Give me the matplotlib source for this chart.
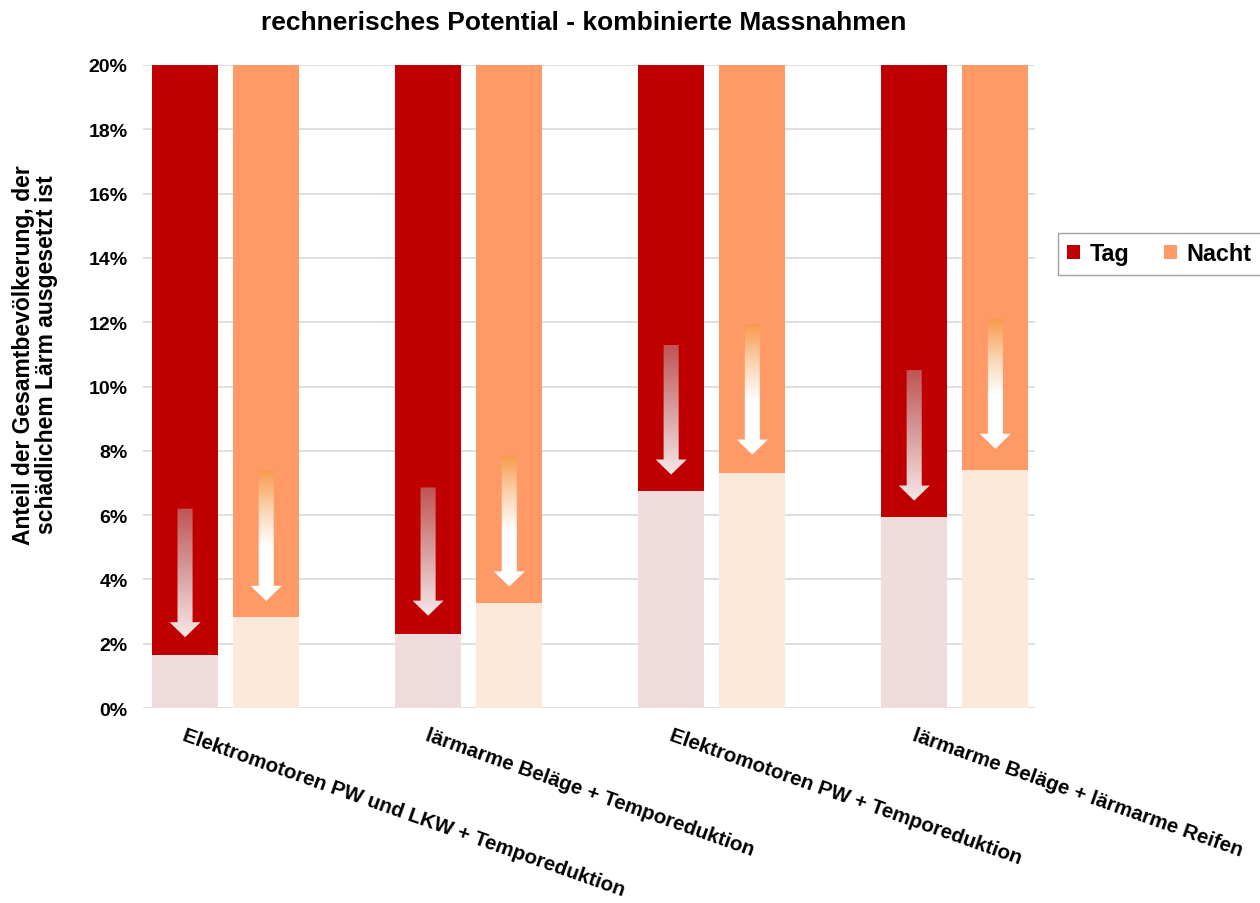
import numpy as np
import matplotlib
matplotlib.use("Agg")
import matplotlib.pyplot as plt
from matplotlib.patches import Polygon, Patch
from matplotlib.transforms import blended_transform_factory

plt.rcParams["font.family"] = ["Liberation Sans", "DejaVu Sans"]
plt.rcParams["font.weight"] = "bold"

categories = [
    "Elektromotoren PW und LKW + Temporeduktion",
    "lärmarme Beläge + Temporeduktion",
    "Elektromotoren PW + Temporeduktion",
    "lärmarme Beläge + lärmarme Reifen",
]
# share of population (%) still exposed after the measures
tag_rest = [1.65, 2.30, 6.75, 5.94]
nacht_rest = [2.83, 3.27, 7.31, 7.40]
# exposure today (bars run past the top of the axis)
tag_heute = [20.0, 20.0, 20.0, 20.0]
nacht_heute = [20.0, 20.0, 20.0, 20.0]
# reduction arrows: start and tip (%)
tag_arrow_top = [6.20, 6.86, 11.30, 10.51]
tag_arrow_tip = [2.20, 2.87, 7.26, 6.45]
nacht_arrow_top = [7.40, 7.85, 11.94, 12.10]
nacht_arrow_tip = [3.33, 3.78, 7.88, 8.06]

yticks = [0, 2, 4, 6, 8, 10, 12, 14, 16, 18, 20]

C_TAG = "#C00000"
C_TAG_LIGHT = "#F0DCDC"
C_NACHT = "#FF9966"
C_NACHT_LIGHT = "#FDE9DA"

fig = plt.figure(figsize=(12.6, 9.04), dpi=100)
ax = fig.add_axes([143 / 1260, 1 - 709 / 904, 892 / 1260, 643 / 904])

x = np.arange(len(categories))
w = 0.272
off = 0.167

tag_red = np.array(tag_heute) - np.array(tag_rest)
nacht_red = np.array(nacht_heute) - np.array(nacht_rest)

ax.bar(x - off, tag_rest, w, color=C_TAG_LIGHT, zorder=2)
ax.bar(x - off, tag_red, w, bottom=tag_rest, color=C_TAG, zorder=2)
ax.bar(x + off, nacht_rest, w, color=C_NACHT_LIGHT, zorder=2)
ax.bar(x + off, nacht_red, w, bottom=nacht_rest, color=C_NACHT, zorder=2)


def gradient_arrow(ax, xc, top, tip, colors, stops):
    shaft = 0.062 / 2
    head = 0.128 / 2
    head_len = 0.47
    verts = [
        (xc - shaft, top), (xc + shaft, top), (xc + shaft, tip + head_len),
        (xc + head, tip + head_len), (xc, tip), (xc - head, tip + head_len),
        (xc - shaft, tip + head_len),
    ]
    poly = Polygon(verts, closed=True, facecolor="none", edgecolor="none", zorder=3)
    ax.add_patch(poly)
    n = 200
    t = np.linspace(0, 1, n)
    cols = np.array(colors, dtype=float) / 255.0
    img = np.zeros((n, 1, 3))
    for ch in range(3):
        img[:, 0, ch] = np.interp(t, stops, cols[:, ch])
    im = ax.imshow(img, extent=[xc - head, xc + head, tip, top], origin="upper",
                   aspect="auto", interpolation="bilinear", zorder=3)
    im.set_clip_path(poly)


for i in range(len(categories)):
    gradient_arrow(ax, x[i] - off, tag_arrow_top[i], tag_arrow_tip[i],
                   [(192, 84, 84), (216, 158, 158), (246, 232, 232)], [0, 0.5, 1])
    gradient_arrow(ax, x[i] + off, nacht_arrow_top[i], nacht_arrow_tip[i],
                   [(247, 155, 75), (251, 212, 178), (255, 255, 255), (255, 255, 255)],
                   [0, 0.3, 0.58, 1])

ax.set_xlim(-0.34, 3.33)
ax.set_ylim(0, 20)
ax.set_yticks(yticks)
ax.set_yticklabels([f"{v}%" for v in yticks], fontsize=14, fontweight="bold")
ax.tick_params(axis="y", length=0, pad=11)
ax.tick_params(axis="x", length=0, labelbottom=False)
ax.yaxis.grid(True, color="#D9D9D9", linewidth=1.2, zorder=0)
ax.set_axisbelow(True)
for s in ax.spines.values():
    s.set_visible(False)

# slanted category labels, anchored at their upper left corner
trans = blended_transform_factory(ax.transData, ax.transAxes)
for i, lab in enumerate(categories):
    ax.text(x[i] - 0.16, -0.026, lab, transform=trans, rotation=-19.5,
            rotation_mode="anchor", ha="left", va="top", fontsize=14.8,
            fontweight="bold", clip_on=False)

fig.text(584 / 1260, 1 - 23 / 904, "rechnerisches Potential - kombinierte Massnahmen",
         ha="center", va="center", fontsize=19, fontweight="bold")
fig.text(35 / 1260, 1 - 355 / 904,
         "Anteil der Gesamtbevölkerung, der\nschädlichem Lärm ausgesetzt ist",
         rotation=90, ha="center", va="center", multialignment="center",
         fontsize=16.5, fontweight="bold", linespacing=1.05)

handles = [Patch(facecolor=C_TAG, edgecolor="none"),
           Patch(facecolor=C_NACHT, edgecolor="none")]
leg = fig.legend(handles, ["Tag", "Nacht"], loc="center left",
                 bbox_to_anchor=(1058 / 1260, 1 - 255 / 904), ncol=2,
                 frameon=True, fancybox=False, fontsize=16.8,
                 handlelength=0.55, handleheight=0.55, handletextpad=0.4,
                 columnspacing=1.5, borderpad=0.4, borderaxespad=0)
leg.get_frame().set_edgecolor("#8C8C8C")
leg.get_frame().set_linewidth(1.0)
for t in leg.get_texts():
    t.set_fontweight("bold")

fig.savefig("out.png", dpi=100)
